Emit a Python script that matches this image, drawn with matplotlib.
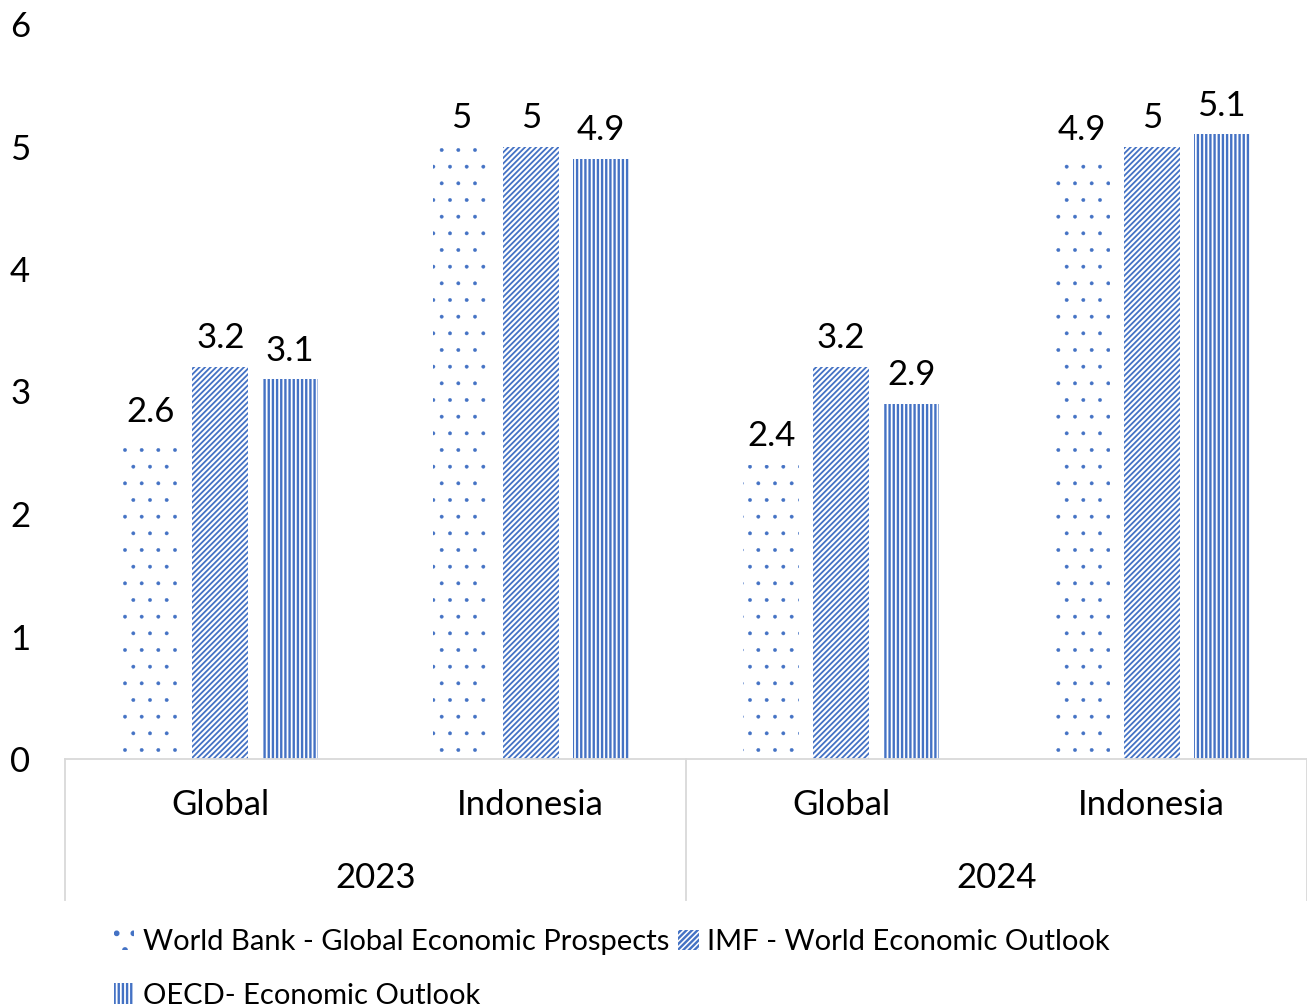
import matplotlib
matplotlib.use("Agg")
import matplotlib.pyplot as plt
import matplotlib.transforms as mtransforms
import numpy as np

years = ["2023", "2024"]
regions = ["Global", "Indonesia", "Global", "Indonesia"]
series_names = ["World Bank - Global Economic Prospects",
                "IMF - World Economic Outlook",
                "OECD- Economic Outlook"]
world_bank = [2.6, 5, 2.4, 4.9]
imf = [3.2, 5, 3.2, 5]
oecd = [3.1, 4.9, 2.9, 5.1]
yticks = [0, 1, 2, 3, 4, 5, 6]

plt.rcParams['font.family'] = ['Lato', 'DejaVu Sans']
blue = '#4472C4'

fig = plt.figure(figsize=(13.07, 10.08), dpi=100)
W, H = 1307, 1008
ax = fig.add_axes([65 / W, 249 / H, (1307 - 65) / W, (984 - 249) / H])

x = np.arange(len(regions))
width = 0.18
step = 0.225
hatches = ['.', '//////', '||||']
hatch_lw = [0.3, 1.3, 1.7]
data = [world_bank, imf, oecd]
bars_list = []
for i, (vals, h, name, hl) in enumerate(zip(data, hatches, series_names, hatch_lw)):
    plt.rcParams['hatch.linewidth'] = hl
    bars = ax.bar(x + (i - 1) * step, vals, width, facecolor='white',
                  edgecolor=blue, linewidth=0, hatch=h, label=name)
    for b in bars:
        if hasattr(b, 'set_hatch_linewidth'):
            b.set_hatch_linewidth(hl)
    bars_list.append(bars)
    for b, v in zip(bars, vals):
        ax.annotate(f"{v:g}", (b.get_x() + b.get_width() / 2, v),
                    xytext=(0, 9), textcoords='offset points',
                    ha='center', va='bottom', fontsize=25, color='black')

ax.set_xlim(-0.5, 3.5)
ax.set_ylim(0, 6)
ax.set_yticks(yticks)
ax.set_yticklabels([str(t) for t in yticks], fontsize=25)
ax.tick_params(axis='y', length=0, pad=25)
ax.tick_params(axis='x', length=0, labelbottom=False)
for s in ['top', 'right', 'left']:
    ax.spines[s].set_visible(False)
ax.spines['bottom'].set_color('#D9D9D9')
ax.spines['bottom'].set_linewidth(1.3)

trans = mtransforms.blended_transform_factory(ax.transData, fig.transFigure)
for xi, r in zip(x, regions):
    ax.text(xi, 1 - 805 / H, r, transform=trans, ha='center', va='center',
            fontsize=25)
for k, yr in enumerate(years):
    ax.text(2 * k + 0.5, 1 - 878 / H, yr, transform=trans, ha='center',
            va='center', fontsize=25)
for xs in [-0.5, 1.5, 3.5]:
    ax.plot([xs, xs], [1 - 759 / H, 1 - 900 / H], transform=trans,
            color='#D9D9D9', linewidth=1.3, clip_on=False)

handles = [bars_list[0], bars_list[2], bars_list[1]]
labels = [series_names[0], series_names[2], series_names[1]]
fig.legend(handles, labels, ncol=2, loc='upper left',
           bbox_to_anchor=(114 / W, 1 - 929 / H), frameon=False,
           fontsize=21, handlelength=0.7, handleheight=0.7,
           handletextpad=0.3, columnspacing=0.3, labelspacing=0.95,
           borderaxespad=0, borderpad=0)

fig.savefig("out.png", dpi=100)
